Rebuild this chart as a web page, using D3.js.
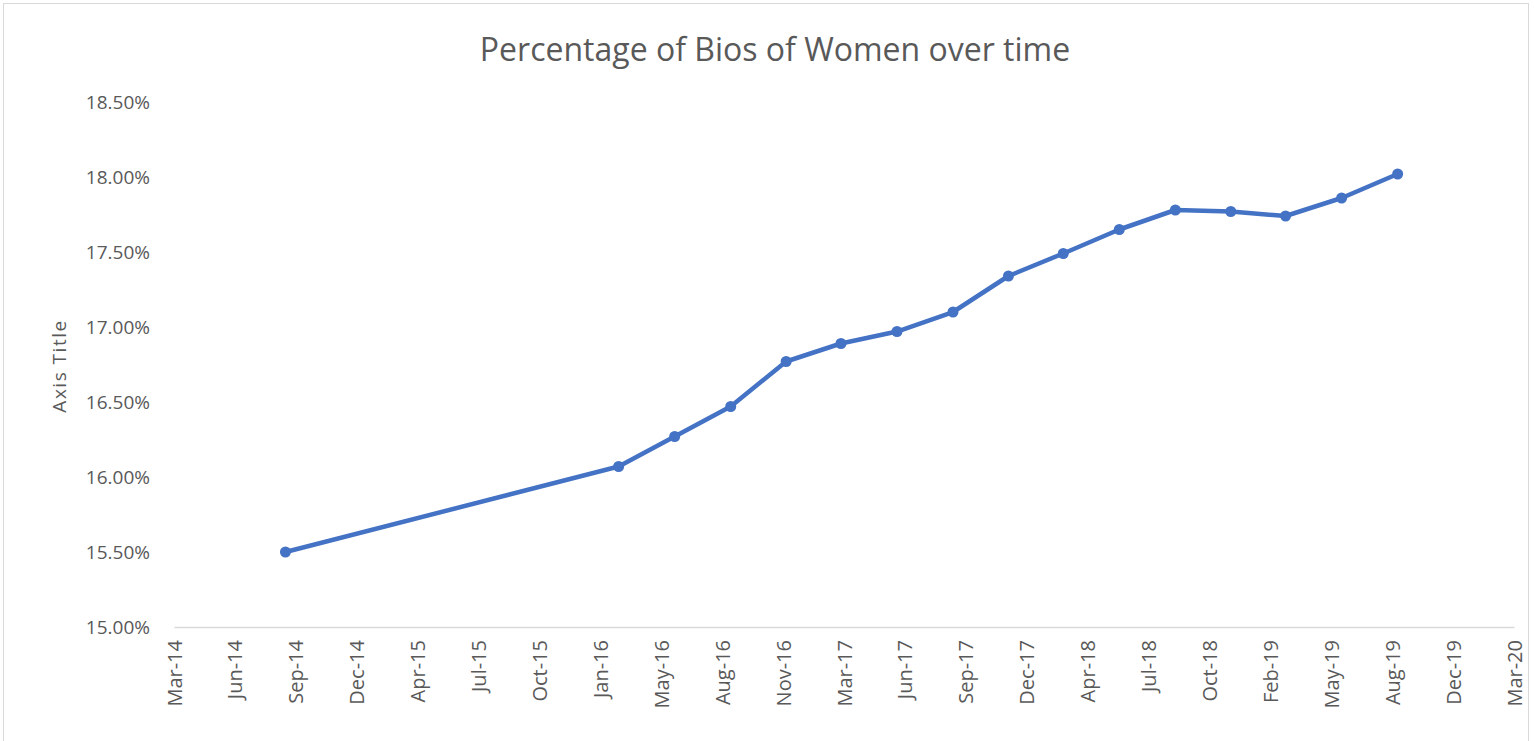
<!DOCTYPE html>
<html lang="en">
<head>
<meta charset="UTF-8">
<title>Percentage of Bios of Women over time</title>
<script src="https://d3js.org/d3.v7.min.js"></script>
<style>
    body { margin: 0; background: #fff; }
    svg { display: block; }
    .tick text { font-family: "Open Sans", sans-serif; fill: #595959; }
</style>
</head>
<body>
<svg width="1534" height="741"></svg>
<script>
    // data
    const dates = ["2014-09-01", "2016-03-01", "2016-06-01", "2016-09-01", "2016-12-01",
        "2017-03-01", "2017-06-01", "2017-09-01", "2017-12-01", "2018-03-01",
        "2018-06-01", "2018-09-01", "2018-12-01", "2019-03-01", "2019-06-01", "2019-09-01"];
    const values = [15.50, 16.07, 16.27, 16.47, 16.77, 16.89, 16.97, 17.10, 17.34,
        17.49, 17.65, 17.78, 17.77, 17.74, 17.86, 18.02];

    const tickLabels = ["Mar-14", "Jun-14", "Sep-14", "Dec-14", "Apr-15", "Jul-15", "Oct-15",
        "Jan-16", "May-16", "Aug-16", "Nov-16", "Mar-17", "Jun-17", "Sep-17", "Dec-17",
        "Apr-18", "Jul-18", "Oct-18", "Feb-19", "May-19", "Aug-19", "Dec-19", "Mar-20"];
    const yTicks = [15.0, 15.5, 16.0, 16.5, 17.0, 17.5, 18.0, 18.5];

    const axisStart = "2014-03-02";   // excel axis min, major unit 100 days
    const dayStep = 100;

    const svg = d3.select("svg");
    const parse = d3.utcParse("%Y-%m-%d");
    const start = parse(axisStart);
    const tickDates = tickLabels.map((d, i) => d3.utcDay.offset(start, i * dayStep));

    const x = d3.scaleUtc()
        .domain([start, tickDates[tickDates.length - 1]])
        .range([174, 1514]);
    const y = d3.scaleLinear()
        .domain([15.0, 18.5])
        .range([627, 102]);

    // chart frame
    svg.append("rect")
        .attr("x", 3.5).attr("y", 3.5)
        .attr("width", 1525).attr("height", 745)
        .attr("fill", "none")
        .attr("stroke", "#d9d9d9");

    // title
    svg.append("text")
        .attr("x", 775)
        .attr("y", 61)
        .attr("text-anchor", "middle")
        .style("font-family", "'Open Sans', sans-serif")
        .style("font-size", "32px")
        .style("fill", "#595959")
        .text("Percentage of Bios of Women over time");

    // y axis (labels only)
    const yAxis = svg.append("g")
        .attr("transform", "translate(174,0)")
        .call(d3.axisLeft(y).tickValues(yTicks).tickSize(0).tickPadding(24)
            .tickFormat(d => d.toFixed(2) + "%"));
    yAxis.select(".domain").remove();
    yAxis.selectAll("text").style("font-size", "19px");

    // x axis
    const xAxis = svg.append("g")
        .attr("transform", "translate(0,627)")
        .call(d3.axisBottom(x).tickValues(tickDates).tickSize(0)
            .tickFormat((d, i) => tickLabels[i]));
    xAxis.select(".domain").attr("stroke", "#d9d9d9").attr("stroke-width", 1.5);
    xAxis.selectAll("text")
        .style("font-size", "20px")
        .attr("transform", "rotate(-90)")
        .attr("text-anchor", "end")
        .attr("x", -13)
        .attr("y", 0)
        .attr("dy", "0.35em");

    // axis title
    svg.append("text")
        .attr("transform", "translate(66,366) rotate(-90)")
        .attr("text-anchor", "middle")
        .style("font-family", "'Open Sans', sans-serif")
        .style("font-size", "19px")
        .style("letter-spacing", "1.5px")
        .style("fill", "#595959")
        .text("Axis Title");

    const points = dates.map((d, i) => ({ date: parse(d), value: values[i] }));

    const line = d3.line()
        .x(d => x(d.date))
        .y(d => y(d.value));

    svg.append("path")
        .datum(points)
        .attr("fill", "none")
        .attr("stroke", "#4472c4")
        .attr("stroke-width", 4.5)
        .attr("stroke-linejoin", "round")
        .attr("d", line);

    svg.selectAll("circle.pt")
        .data(points)
        .enter()
        .append("circle")
        .attr("class", "pt")
        .attr("cx", d => x(d.date))
        .attr("cy", d => y(d.value))
        .attr("r", 5.5)
        .attr("fill", "#4472c4");
</script>
</body>
</html>
